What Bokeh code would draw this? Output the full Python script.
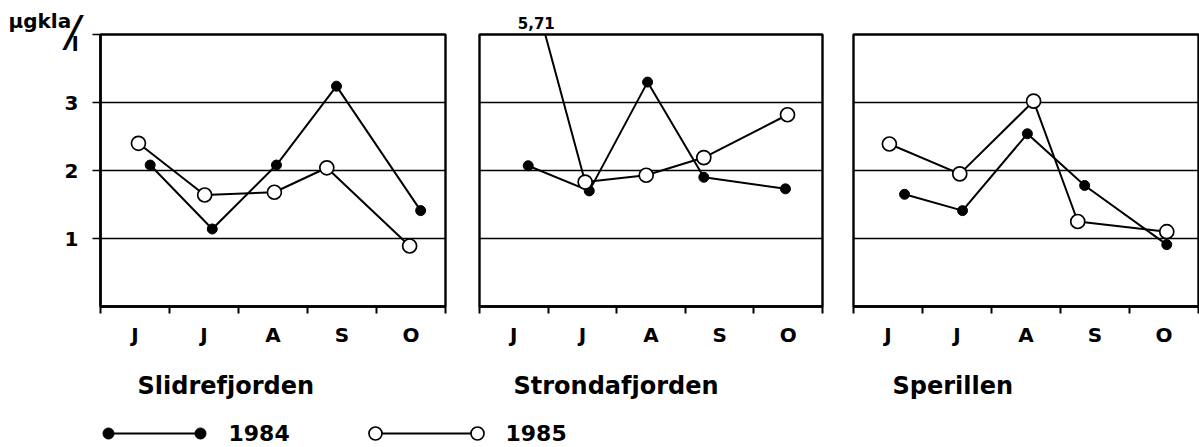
from bokeh.plotting import figure
from bokeh.layouts import column, row
from bokeh.models import Range1d, FixedTicker, Label, Title
from bokeh.embed import file_html
from bokeh.resources import INLINE

# ---------------- data ----------------
months = ["J", "J", "A", "S", "O"]
lakes = ["Slidrefjorden", "Strondafjorden", "Sperillen"]
years = ["1984", "1985"]
unit_top = "µgkla"
unit_bottom = "l"

slid_x84 = [0.72, 1.62, 2.55, 3.42, 4.64]
slid_y84 = [2.08, 1.14, 2.08, 3.24, 1.41]
slid_x85 = [0.55, 1.51, 2.52, 3.28, 4.48]
slid_y85 = [2.40, 1.64, 1.68, 2.04, 0.89]

stro_x84 = [0.71, 1.60, 2.45, 3.27, 4.46]
stro_y84 = [2.07, 1.70, 3.30, 1.90, 1.73]
stro_x85 = [0.50, 1.54, 2.43, 3.27, 4.49]
stro_y85 = [5.71, 1.83, 1.93, 2.19, 2.82]

sper_x84 = [0.74, 1.58, 2.52, 3.35, 4.54]
sper_y84 = [1.65, 1.41, 2.54, 1.78, 0.91]
sper_x85 = [0.52, 1.54, 2.61, 3.25, 4.54]
sper_y85 = [2.39, 1.95, 3.02, 1.25, 1.10]

y_ticks = [1, 2, 3]
y_max = 4

FONT = "DejaVu Sans"
TOP = 34
FRAME_H = 272
BOTTOM = 54
PANEL_H = TOP + FRAME_H + BOTTOM


def make_panel(x84, y84, x85, y85, width, left, right, show_y):
    p = figure(width=width, height=PANEL_H, x_range=Range1d(0, len(months)),
               y_range=Range1d(0, y_max), toolbar_location=None,
               output_backend="svg", min_border_left=left, min_border_right=right,
               min_border_top=TOP, min_border_bottom=BOTTOM)
    p.background_fill_color = "white"
    p.border_fill_color = "white"
    p.outline_line_color = "black"
    p.outline_line_width = 2.4

    # x axis: month labels between ticks
    centers = [i + 0.5 for i in range(len(months))]
    xt = FixedTicker(ticks=centers, minor_ticks=list(range(len(months) + 1)))
    p.xaxis.ticker = xt
    p.xaxis.major_label_overrides = {c: m for c, m in zip(centers, months)}
    p.xaxis.major_tick_out = 0
    p.xaxis.major_tick_in = 0
    p.xaxis.minor_tick_out = 7
    p.xaxis.minor_tick_in = 0
    p.xaxis.minor_tick_line_width = 2
    p.xaxis.minor_tick_line_color = "black"
    p.xaxis.axis_line_width = 2.4
    p.xaxis.axis_line_color = "black"
    p.xaxis.major_label_standoff = 9
    p.xaxis.major_label_text_font = FONT
    p.xaxis.major_label_text_font_style = "bold"
    p.xaxis.major_label_text_font_size = "20px"
    p.xaxis.major_label_text_color = "black"
    p.xgrid.visible = False

    p.ygrid.ticker = FixedTicker(ticks=y_ticks)
    p.ygrid.grid_line_color = "black"
    p.ygrid.grid_line_width = 1.5
    if show_y:
        # tick at the top edge carries the lower part of the unit ("l")
        p.yaxis.ticker = FixedTicker(ticks=y_ticks + [y_max])
        p.yaxis.major_label_overrides = {y_max: "\n" + unit_bottom}
        p.yaxis.major_tick_out = 8
        p.yaxis.major_tick_in = 0
        p.yaxis.major_tick_line_width = 1.5
        p.yaxis.minor_tick_out = 0
        p.yaxis.minor_tick_in = 0
        p.yaxis.axis_line_width = 2.4
        p.yaxis.major_label_standoff = 14
        p.yaxis.major_label_text_font = FONT
        p.yaxis.major_label_text_font_style = "bold"
        p.yaxis.major_label_text_font_size = "20px"
        p.yaxis.major_label_text_line_height = 0.8
        p.yaxis.major_label_text_color = "black"
    else:
        p.yaxis.visible = False

    p.line(x84, y84, line_color="black", line_width=2)
    p.line(x85, y85, line_color="black", line_width=2)
    p.scatter(x84, y84, size=10, fill_color="black", line_color="black")
    p.scatter(x85, y85, size=14, fill_color="white", line_color="black", line_width=1.7)

    # value label for points above the plotted range
    for xv, yv in zip(x85 + x84, y85 + y84):
        if yv > y_max:
            off = (xv - p.x_range.start) / (p.x_range.end - p.x_range.start) * (width - left - right)
            p.add_layout(Title(text=f"{yv:.2f}".replace(".", ","), align="left",
                               offset=off + 4, standoff=11,
                               text_font=FONT, text_font_style="bold",
                               text_font_size="15px", text_color="black"), "above")
    return p


p1 = make_panel(slid_x84, slid_y84, slid_x85, slid_y85, 462, 100, 17, True)
p2 = make_panel(stro_x84, stro_y84, stro_x85, stro_y85, 375, 17, 15, False)
p3 = make_panel(sper_x84, sper_y84, sper_x85, sper_y85, 362, 16, 1, False)

# unit label at top-left of first panel: big slash (closest to frame), then "µgkla"
p1.add_layout(Title(text="/", align="left", offset=-35, standoff=-42,
                    text_font=FONT, text_font_style="italic",
                    text_font_size="43px", text_color="black"), "above")
p1.add_layout(Title(text=unit_top, align="left", offset=-92, standoff=-17.5,
                    text_font=FONT, text_font_style="bold",
                    text_font_size="20px", text_color="black"), "above")

# bottom strip: panel titles and legend
W = 1199
H = 87
b = figure(width=W, height=H, x_range=Range1d(0, W), y_range=Range1d(0, H),
           toolbar_location=None, output_backend="svg",
           x_axis_location=None, y_axis_location=None, min_border=0)
b.grid.visible = False
b.outline_line_color = None
b.background_fill_color = "white"
b.border_fill_color = "white"

title_x = [137, 513, 892]
for name, tx in zip(lakes, title_x):
    b.add_layout(Label(x=tx, y=62, text=name, text_font=FONT,
                       text_font_style="bold", text_font_size="24px",
                       text_baseline="alphabetic", text_color="black"))

# legend keys
b.line([108, 200], [14, 14], line_color="black", line_width=2)
b.scatter([108, 200], [14, 14], size=11, fill_color="black", line_color="black")
b.line([375, 477], [14, 14], line_color="black", line_width=2)
b.scatter([375, 477], [14, 14], size=13, fill_color="white", line_color="black", line_width=1.7)
for yr, tx in zip(years, [228, 505]):
    b.add_layout(Label(x=tx, y=15, text=yr, text_font=FONT,
                       text_font_style="bold", text_font_size="22px",
                       text_baseline="alphabetic", text_color="black"))

layout = column(row(p1, p2, p3, spacing=0), b, spacing=0)
open("out.html", "w").write(file_html(layout, INLINE))
